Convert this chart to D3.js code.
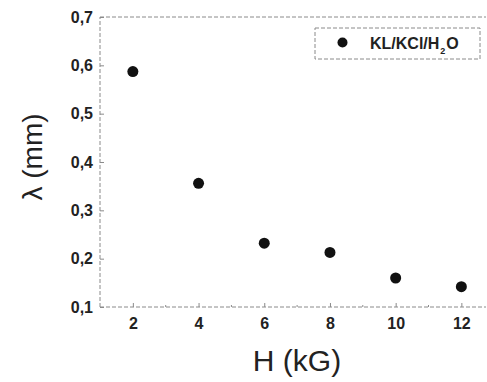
<!DOCTYPE html>
<html>
<head>
<meta charset="utf-8">
<script src="https://cdn.jsdelivr.net/npm/d3@7"></script>
<style>
  body { margin: 0; background: #fff; }
  svg { font-family: Arial, "Liberation Sans", sans-serif; }
</style>
</head>
<body>
<div id="chart"></div>
<script>
// data
const fieldKG = [2, 4, 6, 8, 10, 12]
const lambdaMM = [0.587, 0.356, 0.232, 0.213, 0.160, 0.142]
const xTicks = [2, 4, 6, 8, 10, 12]
const yTicks = [0.1, 0.2, 0.3, 0.4, 0.5, 0.6, 0.7]
const seriesName = 'KL/KCl/H'

const width = 487, height = 382
const margin = { top: 17, right: 1, bottom: 75, left: 100 }

const locale = d3.formatLocale({ decimal: ',', thousands: '.', grouping: [3], currency: ['', ''] })
const fmt = locale.format('.1f')

const svg = d3.select('#chart').append('svg')
  .attr('width', width)
  .attr('height', height)

const x = d3.scaleLinear().domain([1, 12.75]).range([margin.left, width - margin.right])
const y = d3.scaleLinear().domain([0.1, 0.7]).range([height - margin.bottom, margin.top])

const frameColor = '#8a8a8a'

// frame (dashed, like the scanned original)
const frame = svg.append('g')
  .attr('stroke', frameColor)
  .attr('stroke-width', 1)
  .attr('stroke-dasharray', '4,2')
  .attr('fill', 'none')
frame.append('line').attr('x1', x(1)).attr('x2', x(1)).attr('y1', y(0.1)).attr('y2', y(0.7))
frame.append('line').attr('x1', x(1)).attr('x2', x(12.75)).attr('y1', y(0.1)).attr('y2', y(0.1))
frame.append('line').attr('x1', x(1)).attr('x2', x(12.75)).attr('y1', y(0.7)).attr('y2', y(0.7))

// x axis
const xAxis = svg.append('g')
  .attr('transform', `translate(0,${y(0.1)})`)
  .call(d3.axisBottom(x).tickValues(xTicks).tickSizeInner(-4).tickSizeOuter(0).tickPadding(11))
xAxis.select('.domain').remove()
xAxis.selectAll('line').attr('stroke', frameColor)
xAxis.selectAll('text')
  .attr('font-size', 16).attr('font-weight', 'bold').attr('fill', '#222')

// minor x ticks
svg.append('g').selectAll('line')
  .data(d3.range(3, 12, 2))
  .join('line')
  .attr('x1', d => x(d)).attr('x2', d => x(d))
  .attr('y1', y(0.1)).attr('y2', y(0.1) - 2)
  .attr('stroke', frameColor)

// y axis
const yAxis = svg.append('g')
  .attr('transform', `translate(${x(1)},0)`)
  .call(d3.axisLeft(y).tickValues(yTicks).tickFormat(fmt).tickSizeInner(-4).tickSizeOuter(0).tickPadding(7))
yAxis.select('.domain').remove()
yAxis.selectAll('line').attr('stroke', frameColor)
yAxis.selectAll('text')
  .attr('font-size', 16).attr('font-weight', 'bold').attr('fill', '#222')

// axis titles
svg.append('text')
  .attr('x', 297).attr('y', 371)
  .attr('text-anchor', 'middle')
  .attr('font-size', 30)
  .attr('fill', '#222')
  .text('H (kG)')

svg.append('text')
  .attr('transform', `translate(42,157) rotate(-90)`)
  .attr('text-anchor', 'middle')
  .attr('font-size', 28)
  .attr('fill', '#222')
  .text('λ (mm)')

// points
svg.append('g').selectAll('circle')
  .data(fieldKG.map((h, i) => ({ h, v: lambdaMM[i] })))
  .join('circle')
  .attr('cx', d => x(d.h))
  .attr('cy', d => y(d.v))
  .attr('r', 5.5)
  .attr('fill', '#111')

// legend
const legend = svg.append('g')
legend.append('rect')
  .attr('x', 315).attr('y', 28).attr('width', 165).attr('height', 31)
  .attr('fill', 'none')
  .attr('stroke', frameColor)
  .attr('stroke-dasharray', '4,2')
legend.append('circle').attr('cx', 342.5).attr('cy', 42.5).attr('r', 5).attr('fill', '#111')
const lt = legend.append('text')
  .attr('x', 370).attr('y', 49)
  .attr('font-size', 16).attr('font-weight', 'bold').attr('fill', '#222')
lt.append('tspan').text(seriesName)
lt.append('tspan').attr('font-size', 9).attr('dy', 5).attr('dx', 1).text('2')
lt.append('tspan').attr('dy', -5).attr('dx', 1).text('O')
</script>
</body>
</html>
